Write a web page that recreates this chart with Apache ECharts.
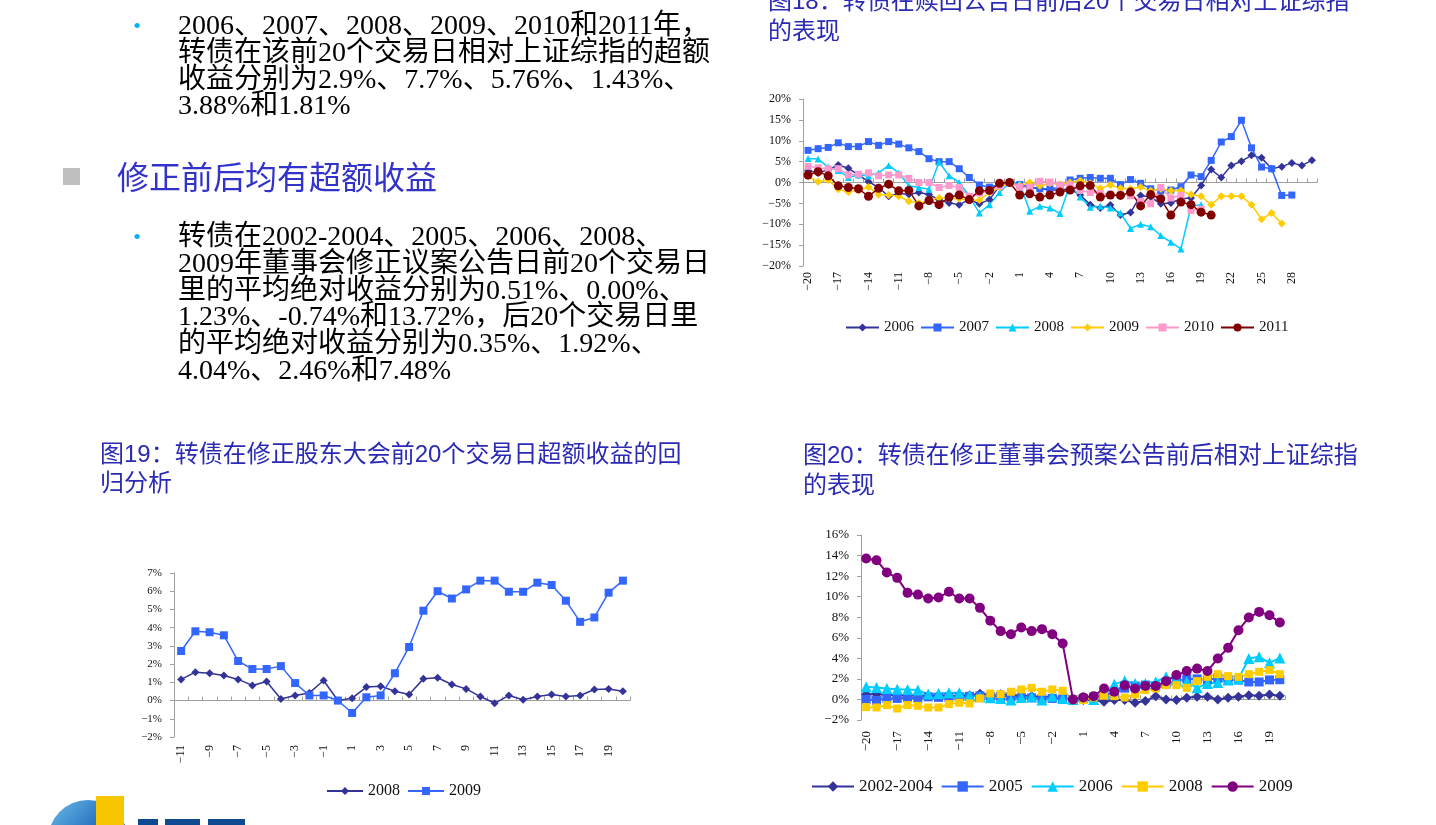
<!DOCTYPE html>
<html><head><meta charset="utf-8">
<script src="https://cdn.jsdelivr.net/npm/echarts@6/dist/echarts.min.js"></script>
<style>html,body{margin:0;padding:0;background:#fff;}#c{width:1436px;height:825px;}</style>
</head><body><div id="c"></div>
<script>
// ---------- data ----------
const days18 = [-20,-19,-18,-17,-16,-15,-14,-13,-12,-11,-10,-9,-8,-7,-6,-5,-4,-3,-2,-1,0,1,2,3,4,5,6,7,8,9,10,11,12,13,14,15,16,17,18,19,20,21,22,23,24,25,26,27,28,29,30];
const f18_2006 = [2.9,2.3,3.0,4.2,3.4,1.8,0.2,-1.2,-3.3,-2.6,-2.9,-2.4,-2.9,-4.1,-4.9,-5.3,-4.1,-5.1,-4.1,-0.8,0,-0.8,-1.2,-1.5,-1.8,-1.8,-1.5,-3.0,-5.3,-6.1,-5.4,-7.8,-7.2,-3.1,-3.5,-5.1,-4.9,-3.9,-3.7,-0.7,3.1,1.2,4.1,5.1,6.5,5.9,3.3,3.8,4.7,4.1,5.3];
const f18_2007 = [7.7,8.1,8.4,9.5,8.6,8.6,9.8,8.9,9.8,9.2,8.3,7.4,5.7,5.0,5.0,3.3,1.2,-0.6,-1.1,-0.5,0,-0.5,-1.0,-1.5,-1.5,-1.2,0.6,1.0,1.2,1.0,1.0,-0.5,0.7,-0.2,-1.5,-2.0,-1.8,-1.0,1.8,1.4,5.3,9.7,11.0,14.9,8.3,3.7,3.3,-3.1,-3.0,null,null];
const f18_2008 = [5.76,5.6,3.7,2.9,1.2,1.8,1.6,2.3,4.1,2.3,-0.8,-1.2,-1.6,4.9,1.6,0,-3.3,-7.3,-5.3,-2.4,0,-0.2,-6.9,-5.7,-6.1,-7.4,-0.5,-3.5,-5.9,-5.7,-6.1,-7.3,-11.0,-10.0,-10.6,-12.7,-14.3,-15.9,-5.7,-5.3,null,null,null,null,null,null,null,null,null,null,null];
const f18_2009 = [1.43,0.2,0.6,-1.6,-2.3,-1.9,-1.1,-2.9,-3.0,-3.3,-4.5,-4.9,-4.5,-3.7,-3.7,-3.9,-4.3,-4.2,-2.4,-1.2,0,-0.8,0,-0.8,-0.2,-0.4,0,0.4,-0.2,-1.4,-0.6,-1.4,-1.5,-1.1,-2.0,-1.5,-2.0,-1.9,-2.9,-3.3,-5.3,-3.3,-3.3,-3.3,-5.3,-8.8,-7.3,-9.8,null,null,null];
const f18_2010 = [3.88,3.5,3.3,3.3,1.8,2.0,2.3,1.6,1.8,1.8,1.0,0,0,-1.2,-0.7,-1.2,-3.3,-2.5,-2.0,-0.8,0,-1.1,-1.2,0.3,0.1,-0.6,-0.6,-1.9,-2.4,-2.6,-3.0,-2.8,-3.2,-4.5,-5.1,-1.2,-3.7,-3.1,-6.7,-6.4,null,null,null,null,null,null,null,null,null,null,null];
const f18_2011 = [1.81,2.6,1.6,-0.8,-1.2,-1.5,-3.3,-1.4,-0.4,-2.0,-1.9,-5.6,-4.3,-5.3,-3.5,-3.0,-4.1,-2.0,-1.9,-0.2,0,-3.0,-2.7,-3.5,-3.0,-2.3,-1.8,-0.8,-0.7,-3.5,-3.0,-3.1,-2.3,-5.6,-2.9,-3.9,-7.8,-4.7,-5.3,-7.1,-7.8,null,null,null,null,null,null,null,null,null,null];

const days19 = [-11,-10,-9,-8,-7,-6,-5,-4,-3,-2,-1,0,1,2,3,4,5,6,7,8,9,10,11,12,13,14,15,16,17,18,19,20];
const f19_2008 = [1.16,1.56,1.5,1.38,1.16,0.83,1.05,0.09,0.28,0.42,1.1,0,0.13,0.74,0.79,0.51,0.33,1.19,1.25,0.88,0.64,0.22,-0.15,0.28,0.04,0.22,0.33,0.22,0.28,0.61,0.64,0.51];
const f19_2009 = [2.72,3.8,3.75,3.58,2.17,1.73,1.73,1.89,0.96,0.28,0.28,0,-0.68,0.18,0.28,1.5,2.94,4.93,6.0,5.6,6.1,6.58,6.58,5.97,5.97,6.47,6.34,5.48,4.32,4.56,5.92,6.58];

const days20 = [-20,-19,-18,-17,-16,-15,-14,-13,-12,-11,-10,-9,-8,-7,-6,-5,-4,-3,-2,-1,0,1,2,3,4,5,6,7,8,9,10,11,12,13,14,15,16,17,18,19,20];
const f20_0204 = [0.51,0.5,0.45,0.4,0.42,0.38,0.35,0.4,0.35,0.3,0.38,0.55,0.45,0.5,0.42,0.38,0.3,0.25,0.2,0.15,0,-0.06,-0.06,-0.23,-0.06,-0.06,-0.32,-0.16,0.32,0,-0.06,0.16,0.26,0.26,0,0.16,0.26,0.42,0.36,0.49,0.35];
const f20_2005 = [0.00,-0.1,0.1,0.1,0.2,0.1,0.25,0.2,0.2,0.25,0.3,0.35,0.3,0.3,0.25,0.2,0.15,0.1,0.1,0.05,0,0.1,0.2,0.5,0.6,1.1,1.3,1.4,1.3,1.5,1.8,2.0,2.0,1.9,2.1,1.9,1.9,1.7,1.7,1.9,1.92];
const f20_2006 = [1.23,1.17,1.07,1.0,0.97,0.91,0.52,0.58,0.65,0.65,0.42,0.26,0.16,0.1,-0.06,0.19,0.26,-0.06,0.32,0.1,0,0.26,0,0.58,1.49,1.81,1.55,1.55,1.72,2.2,1.94,1.72,1.13,1.55,1.65,1.9,2.0,3.99,4.15,3.56,4.04];
const f20_2008 = [-0.74,-0.78,-0.55,-0.88,-0.55,-0.62,-0.78,-0.78,-0.45,-0.32,-0.39,0.1,0.58,0.52,0.75,0.97,1.13,0.75,0.97,0.84,0,-0.06,0.19,0.36,0.32,0.19,0.49,0.91,1.07,1.39,1.39,1.13,1.78,2.2,2.46,2.27,2.2,2.46,2.69,2.85,2.46];
const f20_2009 = [13.72,13.55,12.35,11.83,10.37,10.2,9.82,9.92,10.47,9.82,9.82,8.91,7.65,6.65,6.35,7.0,6.65,6.84,6.35,5.45,0,0.2,0.32,1.07,0.75,1.39,1.07,1.3,1.3,1.78,2.37,2.76,3.0,2.76,3.99,5.02,6.74,7.97,8.52,8.2,7.48];

const legend18 = ['2006','2007','2008','2009','2010','2011'];
const legend19 = ['2008','2009'];
const legend20 = ['2002-2004','2005','2006','2008','2009'];

const para1 = ['2006、2007、2008、2009、2010和2011年，','转债在该前20个交易日相对上证综指的超额','收益分别为2.9%、7.7%、5.76%、1.43%、','3.88%和1.81%'];
const heading = '修正前后均有超额收益';
const para2 = ['转债在2002-2004、2005、2006、2008、','2009年董事会修正议案公告日前20个交易日','里的平均绝对收益分别为0.51%、0.00%、','1.23%、-0.74%和13.72%，后20个交易日里','的平均绝对收益分别为0.35%、1.92%、','4.04%、2.46%和7.48%'];
const title18 = ['图18：转债在赎回公告日前后20个交易日相对上证综指','的表现'];
const title19 = ['图19：转债在修正股东大会前20个交易日超额收益的回','归分析'];
const title20 = ['图20：转债在修正董事会预案公告前后相对上证综指','的表现'];

// ---------- styling ----------
const SERIF = '"Liberation Serif","Noto Sans CJK SC",serif';
const SANS = '"Liberation Sans","Noto Sans CJK SC",sans-serif';
const AX = '#a0a0a0';
const minus = v => String(v).replace('-', '\u2212');
const legendName = n => n.split('|')[1];

function xAxes(grid, data, labelInterval, fontSize, margin) {
  return [
    {gridIndex: grid, type: 'category', data: data, boundaryGap: true, position: 'bottom',
     axisLine: {onZero: true, lineStyle: {color: AX, width: 1}},
     axisTick: {show: true, interval: 0, inside: true, length: 4, lineStyle: {color: AX}},
     axisLabel: {show: false}, splitLine: {show: false}},
    {gridIndex: grid, type: 'category', data: data, boundaryGap: true, position: 'bottom',
     axisLine: {show: false, onZero: false}, axisTick: {show: false}, splitLine: {show: false},
     axisLabel: {interval: labelInterval, rotate: 90, margin: margin, fontSize: fontSize, fontFamily: SERIF, color: '#111', formatter: minus}}
  ];
}
function yAxis(grid, min, max, interval, fontSize) {
  return {gridIndex: grid, type: 'value', min: min, max: max, interval: interval,
    axisLine: {show: true, lineStyle: {color: AX}},
    axisTick: {show: true, length: 4, lineStyle: {color: AX}},
    splitLine: {show: false},
    axisLabel: {margin: 12, fontSize: fontSize, fontFamily: SERIF, color: '#111', formatter: v => minus(v) + '%'}};
}
function line(name, data, xi, yi, color, symbol, size, width) {
  return {name: name, type: 'line', data: data, xAxisIndex: xi, yAxisIndex: yi,
    symbol: symbol, symbolSize: size, showSymbol: true, showAllSymbol: true, connectNulls: false,
    lineStyle: {color: color, width: width}, itemStyle: {color: color}};
}
function txt(x, y, s, font, color, align) {
  return {type: 'text', x: x, y: y, silent: true,
    style: {text: s, font: font, fill: color, textAlign: align || 'left', textVerticalAlign: 'middle'}};
}

const C = {navy: '#333399', blue: '#3366ff', cyan: '#00ccff', gold: '#ffcc00', pink: '#ff99cc', maroon: '#800000', purple: '#800080'};

const series = [
  line('18|2006', f18_2006, 0, 0, C.navy, 'diamond', 8, 1.5),
  line('18|2007', f18_2007, 0, 0, C.blue, 'rect', 7, 1.5),
  line('18|2008', f18_2008, 0, 0, C.cyan, 'triangle', 7, 1.5),
  line('18|2009', f18_2009, 0, 0, C.gold, 'diamond', 8, 1.5),
  line('18|2010', f18_2010, 0, 0, C.pink, 'rect', 7, 1.5),
  line('18|2011', f18_2011, 0, 0, C.maroon, 'circle', 9, 1.5),
  line('19|2008', f19_2008, 2, 1, C.navy, 'diamond', 8, 1.5),
  line('19|2009', f19_2009, 2, 1, C.blue, 'rect', 8, 1.5),
  line('20|2002-2004', f20_0204, 4, 2, C.navy, 'diamond', 10, 2),
  line('20|2005', f20_2005, 4, 2, C.blue, 'rect', 9, 2),
  line('20|2006', f20_2006, 4, 2, C.cyan, 'triangle', 11, 2),
  line('20|2008', f20_2008, 4, 2, C.gold, 'rect', 8, 2),
  line('20|2009', f20_2009, 4, 2, C.purple, 'circle', 10, 2)
];

const graphics = [];
// left column text
graphics.push(txt(137, 27, '•', '22px "Liberation Serif"', '#00b0f0', 'center'));
para1.forEach((s, i) => graphics.push(txt(178, 27 + i * 26.7, s, '28px ' + SERIF, '#000')));
graphics.push({type: 'rect', silent: true, shape: {x: 63, y: 168, width: 17, height: 17}, style: {fill: '#bfbfbf'}});
graphics.push(txt(117, 177, heading, '32px "Noto Sans CJK SC"', '#3333cc'));
graphics.push(txt(137, 238, '•', '22px "Liberation Serif"', '#00b0f0', 'center'));
para2.forEach((s, i) => graphics.push(txt(178, 238 + i * 26.7, s, '28px ' + SERIF, '#000')));
// figure titles
title18.forEach((s, i) => graphics.push(txt(768, 2 + i * 30, s, '24px ' + SANS, '#2a2ab4')));
title19.forEach((s, i) => graphics.push(txt(100, 455 + i * 29, s, '24px ' + SANS, '#2a2ab4')));
title20.forEach((s, i) => graphics.push(txt(803, 456 + i * 30, s, '24px ' + SANS, '#2a2ab4')));
// logo fragment
graphics.push({type: 'circle', silent: true, shape: {cx: 88, cy: 840, r: 40},
  style: {fill: new echarts.graphic.LinearGradient(0, 0, 1, 1, [{offset: 0, color: '#6cc0ea'}, {offset: 0.45, color: '#2a72c0'}, {offset: 1, color: '#123f85'}])}});
graphics.push({type: 'rect', silent: true, shape: {x: 96, y: 796, width: 28, height: 29}, style: {fill: '#f7c600'}});
graphics.push({type: 'rect', silent: true, shape: {x: 138, y: 819, width: 20, height: 6}, style: {fill: '#0d4a8f'}});
graphics.push({type: 'rect', silent: true, shape: {x: 165, y: 819, width: 35, height: 6}, style: {fill: '#0d4a8f'}});
graphics.push({type: 'rect', silent: true, shape: {x: 208, y: 819, width: 37, height: 6}, style: {fill: '#0d4a8f'}});

const option = {
  backgroundColor: '#fff',
  animation: false,
  grid: [
    {left: 803, top: 99, width: 514, height: 167},
    {left: 174, top: 573, width: 456, height: 164},
    {left: 861, top: 535, width: 424, height: 185}
  ],
  xAxis: [].concat(
    xAxes(0, days18, 2, 12, 6),
    xAxes(1, days19, 1, 12, 8),
    xAxes(2, days20, 2, 13, 11)
  ),
  yAxis: [yAxis(0, -20, 20, 5, 12), yAxis(1, -2, 7, 1, 11), yAxis(2, -2, 16, 2, 13)],
  legend: [
    {left: 845, top: 320, padding: 0, itemWidth: 33, itemHeight: 10, itemGap: 6, selectedMode: false,
     data: legend18.map(n => '18|' + n), formatter: legendName,
     textStyle: {fontFamily: SERIF, fontSize: 15, color: '#111'}},
    {left: 326, top: 783, padding: 0, itemWidth: 36, itemHeight: 10, itemGap: 7, selectedMode: false,
     data: legend19.map(n => '19|' + n), formatter: legendName,
     textStyle: {fontFamily: SERIF, fontSize: 16, color: '#111'}},
    {left: 811, top: 778, padding: 0, itemWidth: 42, itemHeight: 13, itemGap: 8, selectedMode: false,
     data: legend20.map(n => '20|' + n), formatter: legendName,
     textStyle: {fontFamily: SERIF, fontSize: 17, color: '#111'}}
  ],
  series: series,
  graphic: graphics
};

const chart = echarts.init(document.getElementById('c'), null, {renderer: 'canvas'});
chart.setOption(option);
</script>
</body></html>
